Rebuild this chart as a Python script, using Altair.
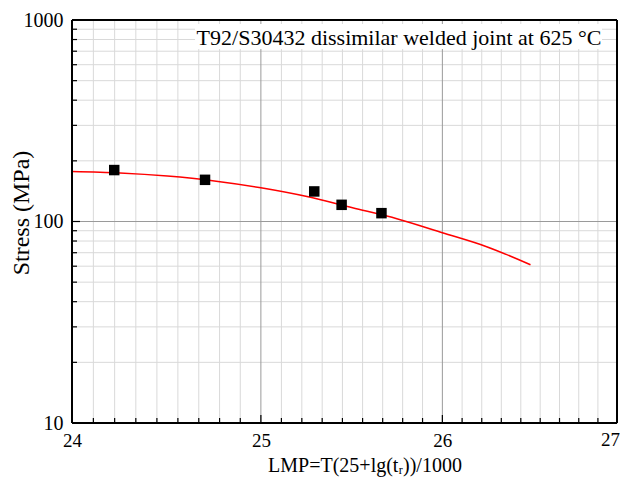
import altair as alt
import pandas as pd

# Data
pts_lmp = [24.22, 24.70, 25.29, 25.44, 25.66]
pts_stress = [180, 161, 141, 121, 110]

fit_lmp = [24.0, 24.25, 24.5, 24.75, 25.0, 25.25, 25.5, 25.75, 26.0, 26.25, 26.5]
fit_stress = [177, 174, 168, 159, 147, 133, 117, 103, 88, 75, 61]

x_major = [24, 25, 26, 27]
y_major = [10, 100, 1000]
x_minor = [24 + i + k / 9 for i in range(3) for k in range(1, 9)]
y_minor = [m * 10 ** d for d in (1, 2) for m in range(2, 10)]

annotation = "T92/S30432 dissimilar welded joint at 625 °C"
x_title = "LMP=T(25+lg(tᵣ))/1000"
y_title = "Stress (MPa)"

W, H = 545, 403
FONT = "Liberation Serif"

xs = alt.Scale(type="log", domain=[24, 27], nice=False, zero=False)
ys = alt.Scale(type="log", domain=[10, 1000], nice=False)

pts = pd.DataFrame({"x": pts_lmp, "y": pts_stress})
fit = pd.DataFrame({"x": fit_lmp, "y": fit_stress})

minor_v = alt.Chart(pd.DataFrame({"x": x_minor})).mark_rule(color="#d9d9d9", strokeWidth=1).encode(
    x=alt.X("x:Q", scale=xs))
minor_h = alt.Chart(pd.DataFrame({"y": y_minor})).mark_rule(color="#d9d9d9", strokeWidth=1).encode(
    y=alt.Y("y:Q", scale=ys))
major_v = alt.Chart(pd.DataFrame({"x": [25, 26]})).mark_rule(color="#9a9a9a", strokeWidth=1).encode(
    x=alt.X("x:Q", scale=xs))
major_h = alt.Chart(pd.DataFrame({"y": [100]})).mark_rule(color="#9a9a9a", strokeWidth=1).encode(
    y=alt.Y("y:Q", scale=ys))

xt_major = alt.Chart(pd.DataFrame({"x": x_major})).mark_rule(color="black", strokeWidth=1.2).encode(
    x=alt.X("x:Q", scale=xs), y=alt.value(H), y2=alt.value(H - 8))
xt_minor = alt.Chart(pd.DataFrame({"x": x_minor})).mark_rule(color="black", strokeWidth=1.2).encode(
    x=alt.X("x:Q", scale=xs), y=alt.value(H), y2=alt.value(H - 5))
yt_major = alt.Chart(pd.DataFrame({"y": y_major})).mark_rule(color="black", strokeWidth=1.2).encode(
    y=alt.Y("y:Q", scale=ys), x=alt.value(0), x2=alt.value(8))
yt_minor = alt.Chart(pd.DataFrame({"y": y_minor})).mark_rule(color="black", strokeWidth=1.2).encode(
    y=alt.Y("y:Q", scale=ys), x=alt.value(0), x2=alt.value(5))

line = alt.Chart(fit).mark_line(color="#ff0000", strokeWidth=1.5, interpolate="monotone").encode(
    x=alt.X("x:Q", scale=xs,
            axis=alt.Axis(values=x_major[:-1], title=None, grid=False, ticks=False,
                          domain=False, labelFont=FONT, labelFontSize=19, labelColor="black",
                          labelPadding=8, format="d", labelFlush=False)),
    y=alt.Y("y:Q", scale=ys,
            axis=alt.Axis(values=y_major, title=None, grid=False, ticks=False,
                          domain=False, labelFont=FONT, labelFontSize=20, labelColor="black",
                          labelPadding=9, format="d", labelFlush=False)),
)

# last x tick label, kept inside the page edge
last_label = alt.Chart(pd.DataFrame({"t": [str(x_major[-1])]})).mark_text(
    font=FONT, fontSize=19, color="black", align="right", baseline="top").encode(
    text="t:N", x=alt.value(W + 3), y=alt.value(H + 8))

points = alt.Chart(pts).mark_point(shape="square", filled=True, color="black", size=110, opacity=1).encode(
    x=alt.X("x:Q", scale=xs), y=alt.Y("y:Q", scale=ys))

box = alt.Chart(pd.DataFrame({"t": [annotation]})).mark_rect(color="white").encode(
    x=alt.value(123), x2=alt.value(530), y=alt.value(4), y2=alt.value(29))
text = alt.Chart(pd.DataFrame({"t": [annotation]})).mark_text(
    font=FONT, fontSize=22, color="black", align="center", baseline="middle").encode(
    text="t:N", x=alt.value(327), y=alt.value(18))

fb = pd.DataFrame({"t": [0]})
frame_top = alt.Chart(fb).mark_rule(color="black", strokeWidth=2).encode(
    x=alt.value(0), x2=alt.value(W), y=alt.value(0))
frame_bottom = alt.Chart(fb).mark_rule(color="black", strokeWidth=2).encode(
    x=alt.value(0), x2=alt.value(W), y=alt.value(H))
frame_left = alt.Chart(fb).mark_rule(color="black", strokeWidth=2).encode(
    x=alt.value(0), y=alt.value(0), y2=alt.value(H))
frame_right = alt.Chart(fb).mark_rule(color="black", strokeWidth=2).encode(
    x=alt.value(W), y=alt.value(0), y2=alt.value(H))

xtitle = alt.Chart(pd.DataFrame({"t": [x_title]})).mark_text(
    font=FONT, fontSize=20, color="black", align="center", baseline="middle").encode(
    text="t:N", x=alt.value(293), y=alt.value(446))
ytitle = alt.Chart(pd.DataFrame({"t": [y_title]})).mark_text(
    font=FONT, fontSize=24, color="black", align="center", baseline="middle", angle=270).encode(
    text="t:N", x=alt.value(-50), y=alt.value(193))

chart = alt.layer(minor_v, minor_h, major_v, major_h, xt_minor, xt_major, yt_minor, yt_major,
                  line, points, box, text, frame_top, frame_bottom, frame_left, frame_right,
                  xtitle, ytitle, last_label).properties(
    width=W, height=H,
    autosize=alt.AutoSizeParams(type="none"),
    padding={"left": 64, "top": 12, "right": 3, "bottom": 56},
).configure_view(stroke=None).configure(background="white")

chart.save("out.html", embed_options={"renderer": "svg", "actions": False})
